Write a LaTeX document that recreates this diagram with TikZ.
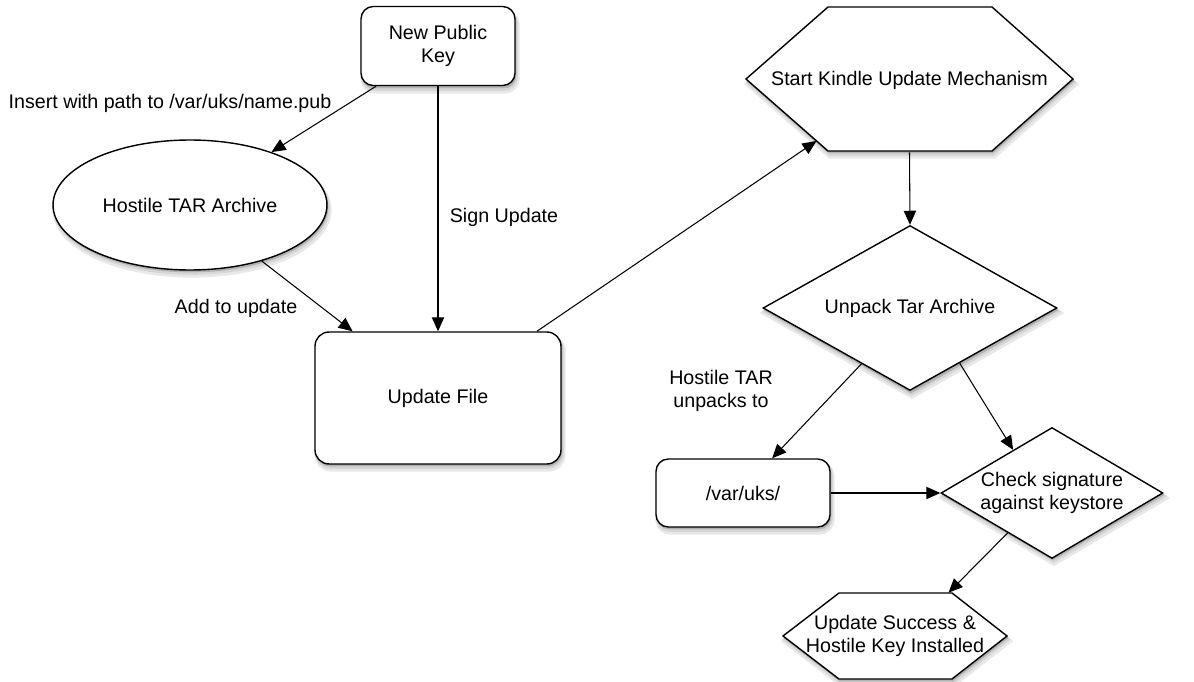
\documentclass[tikz,border=0pt]{standalone}
\usepackage{fontspec}
\setmainfont{Liberation Sans}
\usetikzlibrary{shapes.geometric,arrows.meta,calc,backgrounds}
\tikzset{
    box/.style={draw,fill=white,line width=0.8pt,rounded corners=7pt,align=center},
    oval/.style={ellipse,draw,fill=white,line width=0.8pt,inner sep=0pt},
    rhomb/.style={diamond,draw,fill=white,line width=0.8pt,inner sep=0pt,align=center},
    hexa/.style={draw,fill=white,line width=0.8pt},
    hexatext/.style={inner sep=0pt,align=center},
    flow/.style={-{Triangle[length=8pt,width=7pt]},line width=0.6pt},
    lbl/.style={align=center,inner sep=0pt}
}
\begin{document}
\begin{tikzpicture}[x=0.02cm,y=-0.02cm,font=\fontsize{11.2}{13.4}\selectfont]
\useasboundingbox (0,0) rectangle (1194,682);
% boxes
\node[box,minimum width=3.08cm,minimum height=1.58cm] (npk) at (438,46) {New Public\\Key};
\node[oval,minimum width=5.48cm,minimum height=2.6cm] (hostile) at (190,205) {Hostile TAR Archive};
\node[box,rounded corners=8pt,minimum width=4.92cm,minimum height=2.64cm] (upd) at (438,398) {Update File};
\node[box,minimum width=3.48cm,minimum height=1.36cm] (varuks) at (743,493) {/var/uks/};
\node[rhomb,aspect=1.78,minimum width=5.88cm,minimum height=3.3cm] (unpack) at (910,308) {Unpack Tar Archive};
\node[rhomb,aspect=1.7,minimum width=4.44cm,minimum height=2.62cm] (check) at (1052,493) {Check signature\\against keystore};
% hexagons
\draw[hexa] (746,79) coordinate (kw) -- (828,7) -- (992,7) -- (1073,79) -- (992,151) -- (828,151) coordinate (kbl) -- cycle;
\node[hexatext,minimum width=6.54cm,minimum height=2.88cm] (start) at (909.5,80) {Start Kindle Update Mechanism};
\draw[hexa] (783,636) -- (839,593) -- (952,593) -- (1007,636) -- (952,679) -- (839,679) -- cycle;
\node[hexatext,minimum width=4.48cm,minimum height=1.72cm] (succ) at (895,636) {Update Success \&\\Hostile Key Installed};
\coordinate (kin) at ($(kw)!.86!(kbl)$);
% shadows
\begin{scope}[on background layer]
\foreach \dx/\dy/\c/\w in {2/5/9/3,1.5/3.5/16/1.5,1/2/30/0.4}{
  \begin{scope}[shift={(\dx,\dy)},fill=black!\c,draw=black!\c,line width=\w pt]
  \filldraw[rounded corners=7pt] (361,7) rectangle (515,86);
  \filldraw (190,205) ellipse [x radius=137,y radius=65];
  \filldraw[rounded corners=8pt] (315,332) rectangle (561,464);
  \filldraw[rounded corners=7pt] (656,459) rectangle (830,527);
  \filldraw (763,308) -- (910,226) -- (1057,308) -- (910,391) -- cycle;
  \filldraw (941,493) -- (1052,427) -- (1163,493) -- (1052,558) -- cycle;
  \filldraw (746,79) -- (828,7) -- (992,7) -- (1073,79) -- (992,151) -- (828,151) -- cycle;
  \filldraw (783,636) -- (839,593) -- (952,593) -- (1007,636) -- (952,679) -- (839,679) -- cycle;
  \end{scope}}
\end{scope}
% labels
\node[lbl] (insert) at (170,103) {Insert with path to /var/uks/name.pub};
\node[lbl] (sign) at (504,217) {Sign Update};
\node[lbl] (add) at (236,308) {Add to update};
\node[lbl] (unp) at (721,391) {Hostile TAR\\unpacks to};
% arrows
\draw[flow] (npk.-147) -- (hostile.33);
\draw[flow] (npk.south) -- (upd.north);
\draw[flow] (hostile.-38) -- (upd.142.5);
\draw[flow] (upd.34) -- (kin);
\draw[flow] (start.south) -- (unpack.north);
\draw[flow] (unpack.-131) -- (varuks.50);
\draw[flow] (unpack.-48) -- (check.132);
\draw[flow] (varuks.east) -- (check.west);
\draw[flow] (check.-138) -- (succ.39);
\end{tikzpicture}
\end{document}
